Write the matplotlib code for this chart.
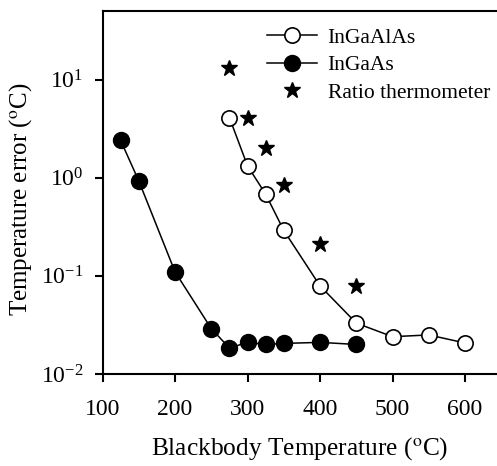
import matplotlib
matplotlib.use("Agg")
import matplotlib.pyplot as plt
from matplotlib.ticker import LogLocator, NullLocator, LogFormatterMathtext

plt.rcParams["font.family"] = ["Liberation Serif", "DejaVu Serif"]
plt.rcParams["mathtext.fontset"] = "stix"

# InGaAlAs detector (open circles)
t_algaas = [275, 300, 325, 350, 400, 450, 500, 550, 600]
err_algaas = [4.1, 1.32, 0.68, 0.29, 0.079, 0.033, 0.024, 0.025, 0.0207]
# InGaAs detector (filled circles)
t_gaas = [125, 150, 200, 250, 275, 300, 325, 350, 400, 450]
err_gaas = [2.4, 0.93, 0.11, 0.029, 0.0184, 0.021, 0.020, 0.0205, 0.021, 0.020]
# ratio thermometer (stars)
t_ratio = [275, 300, 325, 350, 400, 450]
err_ratio = [13, 4.1, 2.0, 0.85, 0.21, 0.079]

fig = plt.figure(figsize=(4.97, 4.66), dpi=100)
ax = fig.add_axes([102.5/497, 1-374/466, (497-102.5)/497, (374-11)/466])

ax.plot(t_algaas, err_algaas, color="black", lw=1.1, marker="o", ms=11,
        mfc="white", mec="black", mew=1.2, label="InGaAlAs")
ax.plot(t_gaas, err_gaas, color="black", lw=1.1, marker="o", ms=11.5,
        mfc="black", mec="black", label="InGaAs")
ax.plot(t_ratio, err_ratio, ls="none", marker="*", ms=12, color="black",
        label="Ratio thermometer")

ax.set_yscale("log")
ax.set_ylim(0.01, 50)
ax.set_xlim(100, 644)
ax.set_xticks([100, 200, 300, 400, 500, 600])
ax.yaxis.set_major_locator(LogLocator(base=10, numticks=10))
ax.yaxis.set_major_formatter(LogFormatterMathtext())
ax.yaxis.set_minor_locator(NullLocator())

for s in ["left", "bottom", "top"]:
    ax.spines[s].set_linewidth(1.5)
ax.spines["right"].set_visible(False)
ax.tick_params(direction="out", length=6, width=1.5, labelsize=17)
ax.tick_params(axis="x", pad=12)
ax.tick_params(axis="y", pad=8)

ax.set_xlabel("Blackbody Temperature ($^{\\mathrm{o}}$C)", fontsize=18.3, labelpad=11)
ax.set_ylabel("Temperature error ($^{\\mathrm{o}}$C)", fontsize=18, labelpad=5)
ax.yaxis.label.set_y(0.48)

ax.legend(loc="upper right", frameon=False, fontsize=15.5, handlelength=2.3,
          handletextpad=0.5, labelspacing=0.35, borderaxespad=0.2,
          bbox_to_anchor=(1.015, 0.99))

fig.savefig("out.png", dpi=100)
